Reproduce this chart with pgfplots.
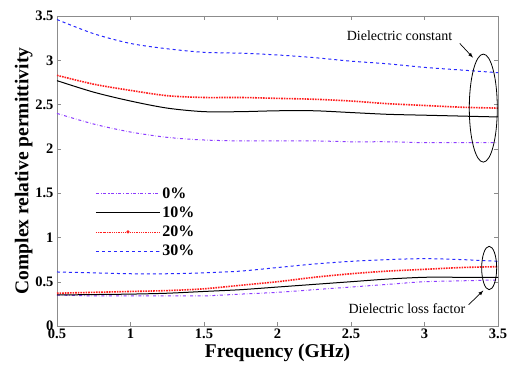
\documentclass[border=0pt]{standalone}
\usepackage{pgfplots}
\pgfplotsset{compat=1.18}
\usepackage{fontspec}
\setmainfont{Liberation Serif}
\usetikzlibrary{calc}
\definecolor{cpurple}{RGB}{140,60,255}
\definecolor{cblue}{RGB}{40,40,255}
\definecolor{cred}{RGB}{255,30,30}
\begin{document}
\begin{tikzpicture}
\begin{axis}[
  scale only axis, width=441pt, height=310pt,
  xmin=0.5, xmax=3.5, ymin=0, ymax=3.5,
  xtick={0.5,1,1.5,2,2.5,3,3.5},
  ytick={0,0.5,1,1.5,2,2.5,3,3.5},
  tick align=inside, tick pos=both,
  major tick length=4pt,
  axis line style={black!45, line width=0.8pt},
  tick style={black!45},
  /pgf/number format/assume math mode=true,
  ticklabel style={font=\bfseries\fontsize{14.5}{14.5}\selectfont},
  xticklabel style={yshift=1pt},
  xlabel={\bfseries Frequency (GHz)},
  ylabel={\bfseries Complex relative permittivity},
  label style={font=\bfseries\fontsize{19.5}{19.5}\selectfont},
  xlabel style={yshift=1pt},
  ylabel style={yshift=-4pt},
  legend style={draw=none, fill=none, at={(rel axis cs:0.08,0.46)}, anchor=north west,
     font=\bfseries\fontsize{16}{16}\selectfont, row sep=3pt},
  legend cell align=left,
  legend image code/.code={\draw[mark repeat=2,mark phase=2,#1] plot coordinates {(0pt,0pt) (32pt,0pt) (64pt,0pt)};},
]
% upper curves (dielectric constant)
\addplot[cpurple, dash dot, line width=1pt, smooth] coordinates {
(0.5,2.40)(0.75,2.28)(1.0,2.19)(1.25,2.13)(1.5,2.10)(1.75,2.09)(2.0,2.09)(2.25,2.09)(2.5,2.08)(2.75,2.08)(3.0,2.07)(3.25,2.07)(3.5,2.07)};
\addlegendentry{0\%}
\addplot[black, solid, line width=1pt, smooth] coordinates {
(0.5,2.77)(0.75,2.64)(1.0,2.54)(1.25,2.46)(1.5,2.42)(1.75,2.42)(2.0,2.43)(2.25,2.43)(2.5,2.41)(2.75,2.39)(3.0,2.38)(3.25,2.37)(3.5,2.36)};
\addlegendentry{10\%}
\addplot[cred, densely dotted, line width=1.6pt, smooth, legend image post style={mark=*, mark size=1.2pt, mark options={solid}, line width=0.8pt}] coordinates {
(0.5,2.83)(0.75,2.73)(1.0,2.66)(1.25,2.60)(1.5,2.58)(1.75,2.58)(2.0,2.57)(2.25,2.56)(2.5,2.54)(2.75,2.51)(3.0,2.49)(3.25,2.47)(3.5,2.46)};
\addlegendentry{20\%}
\addplot[cblue, dashed, line width=1pt, smooth] coordinates {
(0.5,3.46)(0.75,3.30)(1.0,3.19)(1.25,3.13)(1.5,3.09)(1.75,3.08)(2.0,3.06)(2.25,3.03)(2.5,2.99)(2.75,2.96)(3.0,2.92)(3.25,2.89)(3.5,2.86)};
\addlegendentry{30\%}
% lower curves (loss factor)
\addplot[cpurple, dash dot, line width=1pt, smooth, forget plot] coordinates {
(0.5,0.35)(0.75,0.34)(1.0,0.34)(1.25,0.34)(1.5,0.34)(1.75,0.36)(2.0,0.38)(2.25,0.41)(2.5,0.44)(2.75,0.47)(3.0,0.50)(3.25,0.51)(3.5,0.52)};
\addplot[black, solid, line width=1pt, smooth, forget plot] coordinates {
(0.5,0.35)(0.75,0.355)(1.0,0.36)(1.25,0.37)(1.5,0.39)(1.75,0.41)(2.0,0.44)(2.25,0.47)(2.5,0.50)(2.75,0.53)(3.0,0.55)(3.25,0.55)(3.5,0.55)};
\addplot[cred, densely dotted, line width=1.6pt, smooth, forget plot] coordinates {
(0.5,0.37)(0.75,0.38)(1.0,0.39)(1.25,0.40)(1.5,0.42)(1.75,0.46)(2.0,0.50)(2.25,0.55)(2.5,0.59)(2.75,0.62)(3.0,0.64)(3.25,0.66)(3.5,0.67)};
\addplot[cblue, dashed, line width=1pt, smooth, forget plot] coordinates {
(0.5,0.61)(0.75,0.60)(1.0,0.59)(1.25,0.59)(1.5,0.60)(1.75,0.62)(2.0,0.66)(2.25,0.70)(2.5,0.73)(2.75,0.75)(3.0,0.76)(3.25,0.75)(3.5,0.73)};
% annotations
\draw[black, line width=0.8pt] (axis cs:3.40,2.46) ellipse [x radius=14pt, y radius=54pt];
\node[font=\fontsize{14}{14}\selectfont] at (axis cs:2.83,3.28) {Dielectric constant};
\draw[-latex, line width=0.7pt] (axis cs:3.24,3.19) -- (axis cs:3.33,3.03);
\draw[black, line width=0.8pt] (axis cs:3.44,0.655) ellipse [x radius=7.5pt, y radius=21.7pt];
\node[font=\fontsize{14}{14}\selectfont] at (axis cs:2.88,0.20) {Dielectric loss factor};
\draw[-latex, line width=0.7pt] (axis cs:3.30,0.24) -- (axis cs:3.40,0.40);
\end{axis}
\pgfresetboundingbox
\path ($(current axis.south west)+(-57pt,-41pt)$) rectangle ($(current axis.north east)+(16pt,16pt)$);
\end{tikzpicture}
\end{document}
